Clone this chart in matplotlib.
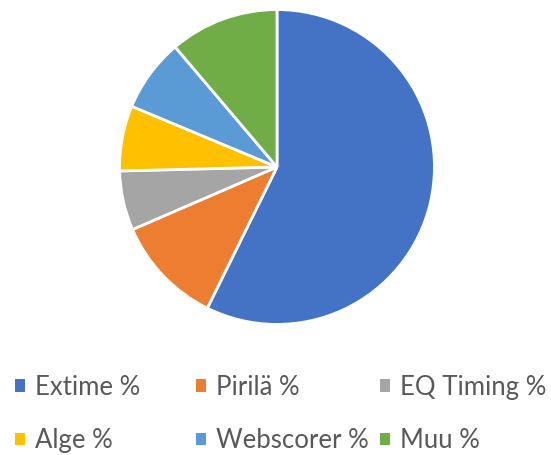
import matplotlib
matplotlib.use("Agg")
import matplotlib.pyplot as plt
from matplotlib.patches import Patch

labels = ["Extime %", "Pirilä %", "EQ Timing %", "Alge %", "Webscorer %", "Muu %"]
shares = [57.3, 11.2, 6.1, 6.7, 7.5, 11.2]
colors = ["#4472C4", "#ED7D31", "#A5A5A5", "#FFC000", "#5B9BD5", "#70AD47"]

plt.rcParams["font.family"] = ["Lato", "DejaVu Sans"]

fig = plt.figure(figsize=(5.51, 4.55), dpi=100)
ax = fig.add_axes([118 / 551, 1 - 326 / 455, 318 / 551, 318 / 455])
ax.pie(shares, colors=colors, startangle=90, counterclock=False,
       wedgeprops=dict(edgecolor="white", linewidth=2))
ax.set_xlim(-1.01, 1.01)
ax.set_ylim(-1.01, 1.01)
ax.set_aspect("equal")
ax.axis("off")

handles = [Patch(facecolor=c, edgecolor="none") for c in colors]

# legend laid out in three columns like the original (row-major order)
col_x = [15 / 551, 196 / 551, 380 / 551]
for j in range(3):
    idx = [j, j + 3]
    fig.legend([handles[i] for i in idx], [labels[i] for i in idx],
               loc="upper left", bbox_to_anchor=(col_x[j], 1 - 375 / 455),
               frameon=False, fontsize=18.5, labelcolor="#595959",
               handlelength=0.39, handleheight=0.39, handletextpad=0.4,
               labelspacing=1.1, borderpad=0, borderaxespad=0)

fig.savefig("out.png", dpi=100, facecolor="white")
